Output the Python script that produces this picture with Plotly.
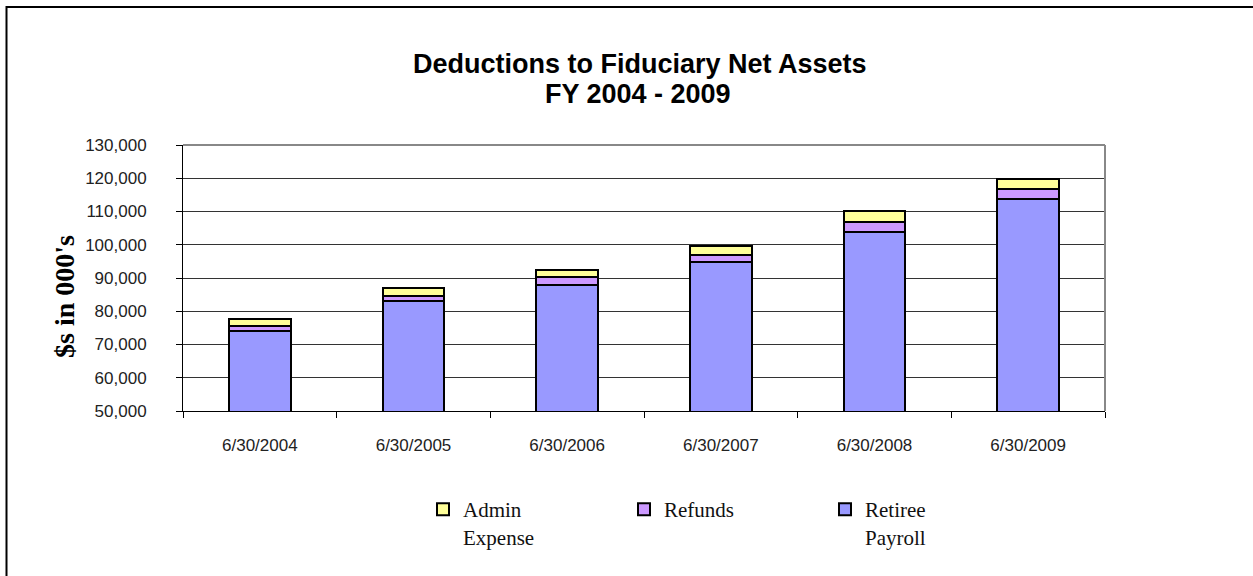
import plotly.graph_objects as go

categories = ["6/30/2004", "6/30/2005", "6/30/2006", "6/30/2007", "6/30/2008", "6/30/2009"]
retiree_payroll = [74200, 83000, 88000, 94900, 103700, 113700]
refunds = [1500, 1600, 2400, 2000, 3100, 3100]
admin_expense = [2000, 2300, 1900, 2800, 3500, 3000]
y_ticks = [50000, 60000, 70000, 80000, 90000, 100000, 110000, 120000, 130000]

W, H = 1253, 576
ML, MR, MT, MB = 183, 148, 145, 165
PW = W - ML - MR
PH = H - MT - MB

def px_x(x):
    return (x - ML) / PW

def px_y(y):
    return (H - MB - y) / PH

fig = go.Figure()
line = dict(color="black", width=2)
fig.add_bar(x=categories, y=retiree_payroll, name="Retiree<br>Payroll",
            marker=dict(color="#9999FF", line=line))
fig.add_bar(x=categories, y=refunds, name="Refunds",
            marker=dict(color="#CC99FF", line=line))
fig.add_bar(x=categories, y=admin_expense, name="Admin<br>Expense",
            marker=dict(color="#FFFF99", line=line))

fig.update_layout(
    width=W, height=H,
    margin=dict(l=ML, r=MR, t=MT, b=MB),
    barmode="stack", bargap=0.6,
    paper_bgcolor="white", plot_bgcolor="white",
    font=dict(family="Liberation Sans, Arial", color="#222222"),
    showlegend=True,
    legend=dict(
        orientation="h", traceorder="reversed",
        x=px_x(423), xanchor="left", y=px_y(489), yanchor="top",
        entrywidth=156, entrywidthmode="pixels",
        valign="top",
        font=dict(family="Liberation Serif, Times New Roman", size=21, color="#111111"),
        bgcolor="rgba(0,0,0,0)",
    ),
    xaxis=dict(
        type="category", tickson="boundaries", ticks="outside", ticklen=6,
        tickcolor="black", showline=True, linecolor="black", linewidth=1,
        showgrid=False, tickfont=dict(size=17, color="#222222"),
        ticklabelstandoff=19,
    ),
    yaxis=dict(
        range=[50000, 130000], tickvals=y_ticks, tickformat=",",
        ticks="outside", ticklen=6, tickcolor="black",
        showline=True, linecolor="black", linewidth=1,
        showgrid=True, gridcolor="#333333", gridwidth=1,
        zeroline=False, tickfont=dict(size=17, color="#222222"),
        ticklabelstandoff=26,
    ),
    annotations=[
        dict(text="<b>Deductions to Fiduciary Net Assets</b>", xref="paper", yref="paper",
             x=px_x(640), y=px_y(64), xanchor="center", yanchor="middle", showarrow=False,
             font=dict(family="Liberation Sans, Arial", size=27, color="black")),
        dict(text="<b>FY 2004 - 2009</b>", xref="paper", yref="paper",
             x=px_x(638), y=px_y(94), xanchor="center", yanchor="middle", showarrow=False,
             font=dict(family="Liberation Sans, Arial", size=27, color="black")),
        dict(text="<b>$s in 000's</b>", xref="paper", yref="paper", textangle=-90,
             x=px_x(64), y=px_y(296), xanchor="center", yanchor="middle", showarrow=False,
             font=dict(family="Liberation Serif, Times New Roman", size=28, color="black")),
    ],
    shapes=[
        # plot area border (top and right, grey)
        dict(type="line", xref="paper", yref="paper", x0=0, x1=1, y0=1, y1=1,
             line=dict(color="#888888", width=2)),
        dict(type="line", xref="paper", yref="paper", x0=1, x1=1, y0=0, y1=1,
             line=dict(color="#888888", width=2)),
        # outer chart border
        dict(type="rect", xref="paper", yref="paper",
             x0=px_x(6.5), x1=px_x(1280), y0=px_y(7), y1=px_y(600),
             line=dict(color="black", width=2), fillcolor="rgba(0,0,0,0)"),
    ],
)

fig.write_html("out.html", config={"displayModeBar": False},
               post_script="document.body.style.margin='0';document.body.style.overflow='hidden';")
